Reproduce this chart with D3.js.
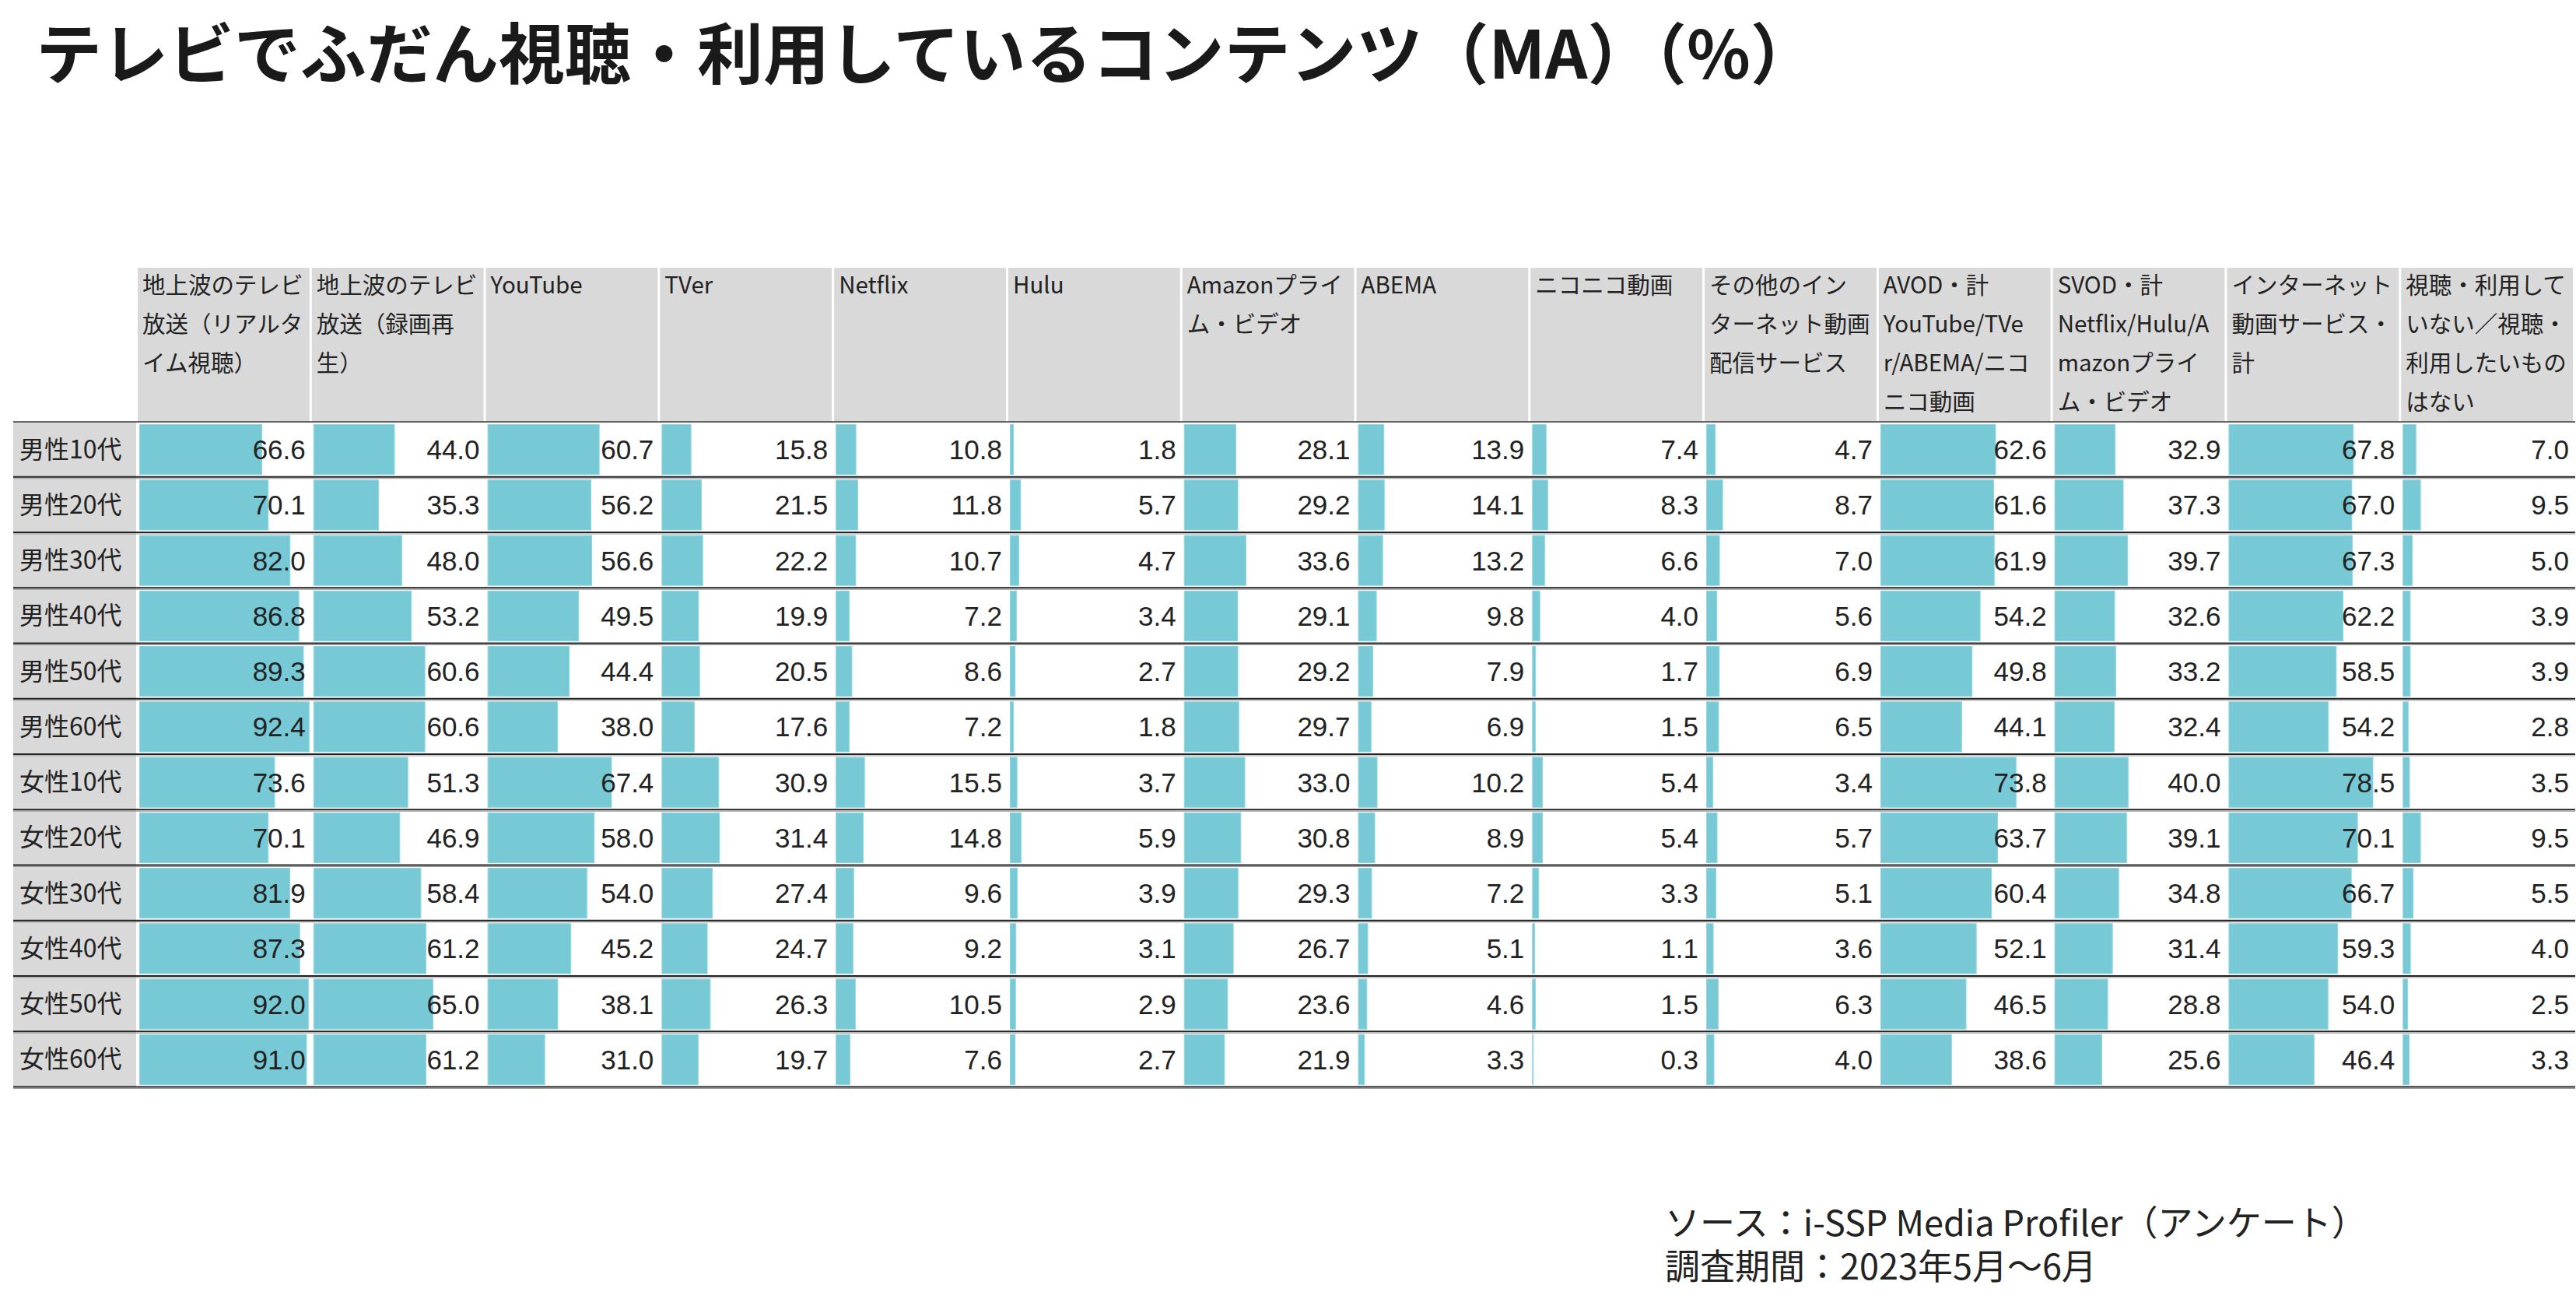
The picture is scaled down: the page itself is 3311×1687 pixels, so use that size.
<!DOCTYPE html>
<meta charset="utf-8">
<style>
    body { margin: 0; background: #fff; }
    text { fill: #222; }
    .hdr { font-family: "Noto Sans CJK JP", sans-serif; font-size: 29.5px; }
    .lbl { font-family: "Noto Sans CJK JP", sans-serif; font-size: 32px; }
    .val { font-family: "Liberation Sans", Arial, sans-serif; font-size: 35px; }
</style>
<svg width="3311" height="1687"></svg>
<script src="https://d3js.org/d3.v7.min.js"></script>
<script>

    // row labels (age groups)
    var rowLabels = ["男性10代", "男性20代", "男性30代", "男性40代", "男性50代", "男性60代",
                     "女性10代", "女性20代", "女性30代", "女性40代", "女性50代", "女性60代"];

    // column headers, already broken into lines as in the original
    var headers = [
        ["地上波のテレビ", "放送（リアルタ", "イム視聴）"],
        ["地上波のテレビ", "放送（録画再", "生）"],
        ["YouTube"],
        ["TVer"],
        ["Netflix"],
        ["Hulu"],
        ["Amazonプライ", "ム・ビデオ"],
        ["ABEMA"],
        ["ニコニコ動画"],
        ["その他のイン", "ターネット動画", "配信サービス"],
        ["AVOD・計", "YouTube/TVe", "r/ABEMA/ニコ", "ニコ動画"],
        ["SVOD・計", "Netflix/Hulu/A", "mazonプライ", "ム・ビデオ"],
        ["インターネット", "動画サービス・", "計"],
        ["視聴・利用して", "いない／視聴・", "利用したいもの", "はない"]
    ];

    // one array per column, values per row (%)
    var tvLive      = [66.6, 70.1, 82.0, 86.8, 89.3, 92.4, 73.6, 70.1, 81.9, 87.3, 92.0, 91.0];
    var tvRecorded  = [44.0, 35.3, 48.0, 53.2, 60.6, 60.6, 51.3, 46.9, 58.4, 61.2, 65.0, 61.2];
    var youtube     = [60.7, 56.2, 56.6, 49.5, 44.4, 38.0, 67.4, 58.0, 54.0, 45.2, 38.1, 31.0];
    var tver        = [15.8, 21.5, 22.2, 19.9, 20.5, 17.6, 30.9, 31.4, 27.4, 24.7, 26.3, 19.7];
    var netflix     = [10.8, 11.8, 10.7, 7.2, 8.6, 7.2, 15.5, 14.8, 9.6, 9.2, 10.5, 7.6];
    var hulu        = [1.8, 5.7, 4.7, 3.4, 2.7, 1.8, 3.7, 5.9, 3.9, 3.1, 2.9, 2.7];
    var amazon      = [28.1, 29.2, 33.6, 29.1, 29.2, 29.7, 33.0, 30.8, 29.3, 26.7, 23.6, 21.9];
    var abema       = [13.9, 14.1, 13.2, 9.8, 7.9, 6.9, 10.2, 8.9, 7.2, 5.1, 4.6, 3.3];
    var niconico    = [7.4, 8.3, 6.6, 4.0, 1.7, 1.5, 5.4, 5.4, 3.3, 1.1, 1.5, 0.3];
    var otherNet    = [4.7, 8.7, 7.0, 5.6, 6.9, 6.5, 3.4, 5.7, 5.1, 3.6, 6.3, 4.0];
    var avodTotal   = [62.6, 61.6, 61.9, 54.2, 49.8, 44.1, 73.8, 63.7, 60.4, 52.1, 46.5, 38.6];
    var svodTotal   = [32.9, 37.3, 39.7, 32.6, 33.2, 32.4, 40.0, 39.1, 34.8, 31.4, 28.8, 25.6];
    var netTotal    = [67.8, 67.0, 67.3, 62.2, 58.5, 54.2, 78.5, 70.1, 66.7, 59.3, 54.0, 46.4];
    var noneUsed    = [7.0, 9.5, 5.0, 3.9, 3.9, 2.8, 3.5, 9.5, 5.5, 4.0, 2.5, 3.3];

    var series = [tvLive, tvRecorded, youtube, tver, netflix, hulu, amazon,
                  abema, niconico, otherNet, avodTotal, svodTotal, netTotal, noneUsed];

    var svg = d3.select("svg");

    var tableLeft = 17, labelRight = 175, colLeft = 177, tableRight = 3310,
        headTop = 344, headBottom = 542, tableBottom = 1397;

    var col = d3.scaleBand()
        .domain(d3.range(headers.length))
        .range([colLeft, tableRight]);

    var row = d3.scaleBand()
        .domain(rowLabels)
        .range([headBottom, tableBottom]);

    var allValues = d3.merge(series);
    var x = d3.scaleLinear()
        .domain([0, d3.max(allValues)])
        .range([0, col.bandwidth() - 6]);

    // title
    svg.append("text")
        .attr("x", 46)
        .attr("y", 101)
        .attr("font-family", "'Noto Sans CJK JP', sans-serif")
        .attr("font-weight", 700)
        .attr("font-size", 85)
        .style("fill", "#1a1a1a")
        .text("テレビでふだん視聴・利用しているコンテンツ（MA）（%）");

    // header cells
    var head = svg.append("g").selectAll("g")
        .data(headers)
        .enter().append("g")
        .attr("transform", function(d, i) { return "translate(" + col(i) + ",0)"; });

    head.append("rect")
        .attr("x", 0)
        .attr("y", headTop)
        .attr("width", col.bandwidth() - 3)
        .attr("height", headBottom - headTop)
        .attr("fill", "#d9d9d9");

    head.selectAll("text")
        .data(function(d) { return d; })
        .enter().append("text")
        .attr("class", "hdr")
        .attr("x", 6)
        .attr("y", function(d, j) { return headTop + 33 + j * 50; })
        .text(function(d) { return d; });

    // row label cells
    var rows = svg.append("g").selectAll("g")
        .data(rowLabels)
        .enter().append("g")
        .attr("transform", function(d) { return "translate(0," + row(d) + ")"; });

    rows.append("rect")
        .attr("x", tableLeft)
        .attr("y", 0)
        .attr("width", labelRight - tableLeft)
        .attr("height", row.bandwidth())
        .attr("fill", "#d9d9d9");

    rows.append("text")
        .attr("class", "lbl")
        .attr("x", 25)
        .attr("y", row.bandwidth() / 2 + 11)
        .text(function(d) { return d; });

    // data bars and values
    rows.each(function(label, r) {
        var g = d3.select(this);
        series.forEach(function(s, c) {
            var v = s[r];
            g.append("rect")
                .attr("x", col(c) + 2.5)
                .attr("y", 3.5)
                .attr("width", Math.max(1, x(v)))
                .attr("height", row.bandwidth() - 7)
                .attr("fill", "#78c9d6")
                .attr("stroke", "#93d5e0")
                .attr("stroke-width", 1);
            g.append("text")
                .attr("class", "val")
                .attr("x", col(c) + col.bandwidth() - 8)
                .attr("y", row.bandwidth() / 2 + 12.5)
                .attr("text-anchor", "end")
                .text(v.toFixed(1));
        });
    });

    // header bottom rule
    svg.append("line")
        .attr("x1", tableLeft).attr("x2", tableRight)
        .attr("y1", headBottom).attr("y2", headBottom)
        .attr("stroke", "#666")
        .attr("stroke-width", 2);

    // row rules (dark line with a faint second line)
    var rules = svg.append("g").selectAll("g")
        .data(rowLabels.slice(1).map(function(d) { return row(d); }).concat([tableBottom]))
        .enter().append("g");

    rules.append("line")
        .attr("x1", tableLeft).attr("x2", tableRight)
        .attr("y1", function(d) { return d - 0.5; }).attr("y2", function(d) { return d - 0.5; })
        .attr("stroke", "#222")
        .attr("stroke-width", 2);

    rules.append("line")
        .attr("x1", tableLeft).attr("x2", tableRight)
        .attr("y1", function(d) { return d + 1.5; }).attr("y2", function(d) { return d + 1.5; })
        .attr("stroke", "#999")
        .attr("stroke-width", 1);

    // source note
    var note = svg.append("g")
        .attr("font-family", "'Noto Sans CJK JP', sans-serif")
        .attr("font-size", 45);

    note.append("text")
        .attr("x", 2140)
        .attr("y", 1588)
        .text("ソース：i-SSP Media Profiler（アンケート）");

    note.append("text")
        .attr("x", 2140)
        .attr("y", 1644)
        .text("調査期間：2023年5月～6月");

</script>
